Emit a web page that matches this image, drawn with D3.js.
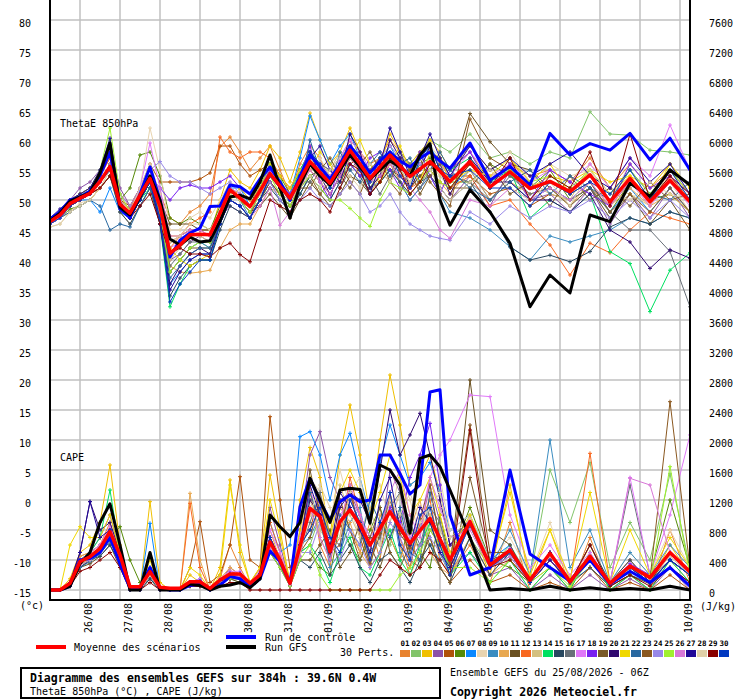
<!DOCTYPE html>
<html lang="fr">
<head>
<meta charset="utf-8">
<title>Diagramme des ensembles GEFS</title>
<script src="https://cdn.jsdelivr.net/npm/d3@7"></script>
<style>
  body { margin: 0; background: #fff; }
  text { font-family: "DejaVu Sans Mono", monospace; }
</style>
</head>
<body>
<script>
// echeances (h) : 6h jusqu'a 240h, puis 12h
var hours = [0,6,12,18,24,30,36,42,48,54,60,66,72,78,84,90,96,102,108,114,120,126,132,138,144,150,156,162,168,174,180,186,192,198,204,210,216,222,228,234,240,252,264,276,288,300,312,324,336,348,360,372,384];
var dayHours = [18,42,66,90,114,138,162,186,210,234,258,282,306,330,354,378];
var dayLabels = ["26/08","27/08","28/08","29/08","30/08","31/08","01/09","02/09","03/09","04/09","05/09","06/09","07/09","08/09","09/09","10/09"];
var thetaTicks = [-15,-10,-5,0,5,10,15,20,25,30,35,40,45,50,55,60,65,70,75,80];
var capeTicks = [0,400,800,1200,1600,2000,2400,2800,3200,3600,4000,4400,4800,5200,5600,6000,6400,6800,7200,7600];

var memberColors = ["#e8832f","#82c46a","#f0c000","#8c52a8","#b0520a","#568a08","#0a88ff","#e8d4b0","#3a8cc0","#e8a850",
                    "#6a5020","#f86820","#d4c080","#00e060","#284860","#687078","#e078f8","#7820f0","#7a5a28","#300870",
                    "#f0d800","#2868a0","#8a5820","#9888e8","#a0f030","#d878d8","#200898","#e0d0a8","#880000","#0038c0"];

// ThetaE 850hPa (°C)
var thetaMean = [46.4,47.5,49.4,50.3,51.1,53.1,55.6,49.3,47.8,50.8,53.6,48.9,41.1, 42.5,44.2,44.3,44.2,47.8,51.7,50.3,48.9,51.5,54.4,52.3,50.3,53.3, 56.4,54.6,52.8,55.5,58.3,56.0,53.6,55.5,57.5,55.7,53.9,55.2,56.4,54.8,53.1, 56.4,52.2,54.7,51.9,53.1,51.4,54.2,49.7,53.6,49.7,53.3,49.7];
var thetaCtrl = [46.8,48,50,50.5,51.5,54,58,48.5,47,51,55.5,50,40.5, 43.3,44.5,45.3,48.9,49,52.5,52.2,51,53.5,55.5,53,50,54, 57.5,55.5,53.5,56,59,57,54.5,56.5,58,56.5,55.5,57,58,56.5,55.3, 59.5,53.3,55.6,52.5,61.1,57.5,59.4,58.3,61.1,56.7,60.3,55];
var thetaGfs = [46.5,47.8,49.8,50.5,51.2,54.5,59.5,48.8,47.5,50.5,54,50,43.5, 42.5,43.8,43,43.2,46.5,50.5,50.8,50.2,53,57.5,52,47,52.5, 56,54,52.5,55,57.5,55.5,53.5,55,56.5,55.5,54,57.5,59.4,50,45.8, 51.7,48,42.8,32.2,37.5,34.5,47.5,46.4,52.8,50.6,55,52.5];
var thetaPerts = [
  [47,48,50,51,52,54,57,50,48.5,52,55,51,47, 46,48,49,51,58.9,60.5,58,55,57,59,55,51,56, 59,57,53,56,60,58,56,57,60,58,55,57,58,57,55, 58,53,56,54,55,53,57,52,56,52,55,51],
  [46,47,50,51,51.5,54,60,50,48,51,54,50,38, 40,42,43,42,47,51,50,48,50,56,54,49,51, 54,55,55,57,59,57,52,55,57,57,56,58,60,59,58, 61,57,58,56,58,57,64.7,61,60.8,58.3,58,57.5],
  [46,47.5,49,50,51.5,53,56,50,48,52,55,50,44, 44,45,45,44,50,55,53,52,55,59,57,53,58, 64.5,60,56,58,62,58,53,56,61,58,56,58,60,58,55, 59,55,57,52,54,53,55,51,54,52,56,52],
  [47,48,50,52,53,55,58.5,52,49,50,54,50,40, 41,43,44,43,47,49,48,47,52,56,53,50,55, 58,56,55,57,60,55,51,53,57,53,50,52,54,52,50, 54,49,55,50,51,48,52,46,51,47,52,47],
  [47,48,49.5,50,51,53,56,50,49,52,56,53,53, 53,53,53.5,54.5,59,59,56,54,55,56,52,51,54, 55,53,51,54,56,57,55,55,57,55,52,54,55,56,54, 54,51,52,49,51,50,52,49,53,50,54,50],
  [46,47,48.5,49,50,52,54,50,52,57.5,58,54,47, 46,47,46,45,49,52,51,49,53,57,54,51,53, 54,55,52,55,57,56,52,54,57,55,53,56,57,55,53, 53,56,54,52,55,50,52,48,53,50,51,48],
  [46,47,49,50,50,48,52,48,47,50,53,47,36, 38,40,41,41,47,52,52,49,52,56,52,51,57, 64,60,56,59,61,57,53,56,59,56,54,56,59,56,52, 55,50,53,50,52,50,53,48,52,48,52,48],
  [45.5,46,48,49.5,50,52,55,50,48,52,62,55,45, 45,47,48,47,50,53,52,50,52,54,51,50,53, 55,57,54,53,56,58,55,54,58,56,53,55,59,57,54, 55,53,58,53,56,54,55,50,56,52,53,48],
  [46,47,49,50,51,53,55,49,47,50,53,48,38, 40,42,43,42,47,51,50,47,50,53,50,48,51, 54,52,50,53,57,55,52,53,55,53,50,52,54,51,48, 47,45,42.2,40,44,43,44,45,47,46,48,47],
  [46,47,48,49,50,52,54,48,46,49,52,46,39, 38,37.8,38,38.3,42,45,46,46,49,52,51,49,53, 57,55,53,55,58,54,51,54,56,53,51,53,55,53,51, 55,50,53,51,52,49,53,49,52,49,51,48],
  [47,48,49,50,51,53,55,49,48,51,53,50,46, 46,46,45,45,48,51,50,48,49,51,49,47,50, 53,51,49,51,54,53,51,53,55,54,52,54,56,55,53, 64.4,59.7,56,55,52,49,52,47,51,46,50,45],
  [47,48,50,51,52,54,57,51,49,52,55,50,42, 44,46,47,48,60.5,58,57,58,58,57,54,52,55, 58,55,53,55,57,55,53,55,56,54,52,53,55,53,52, 54,49,50,46,42.5,37.5,42.8,41.2,45,48,47,46],
  [46,47,49,50,51,53,55,49,48,51,54,49,40, 42,44,44,43,47,51,50,48,51,53,51,50,52, 56,53,55,58,57,55,56,54,57,58,55,53,56,54,52, 56,54,55,53,51,50,56,52,51,49,55,50],
  [46,47,49,50,51,53,56,50,48,50,52,46,32.2, 36,39,40,40,46,51,50,49,52,56,53,51,55, 58,56,54,56,59,57,55,57,59,57,55,56,58,56,55, 57,53,55,47,50,48,51,41.4,39.4,31.4,38.3,41.2],
  [46,47,49,50,51,52,54,48,46,49,52,46,34, 37,39,40,40,45,49,48,47,50,52,50,48,51, 54,52,50,53,56,54,51,53,55,53,51,53,54,52,50, 53,48,42.2,40,40.8,39.7,41.4,45.5,47,46,48,47],
  [46,47,49,50,51,53,55,49,47,50,53,48,39, 41,43,43,43,47,51,50,48,51,54,52,50,53, 53,56,55,52,55,57,54,51,54,58,56,52,55,57,54, 53,50,54,51,52,50,52,48,45,45,41.4,32.2],
  [46,47,49,50,51,53,56,50,48,52,59.5,52,42, 43,45,45,44,48,52,51,49,52,55,53,51,54, 57,56,54,57,60,58,55,57,59,57,55,56,58,56,54, 58,54,56,53,55,53,56,52,57,54,62.5,55],
  [47,48,49,50,51,53,56,50,48,51,54,52,50, 52,52.5,52,52,53,54,52,50,52,55,53,51,54, 59,53,50,57,56,54,57,58,55,52,55,58,54,51,55, 58,52,56,50,55,53,51,49,56,52,54,51],
  [47,48,49,50,51,53,55,49,47,50,53,48,38, 40,42,42,42,46,50,49,47,50,53,51,49,52, 52,55,57,54,52,56,58,55,53,57,55,51,54,56,52, 52,56,51,53,49,54,50,52,49,53,50,51],
  [46,47,49,50,51,53,56,49,47,50,53,47,36, 39,41,42,41,46,50,49,47,50,54,52,50,54, 58,54,51,54,61,58,52,54,60,57,52,55,59,55,51, 57,53,53,50,50,48,51,45,43,38.6,41.7,40.3],
  [46,47,49.5,50,51,53,56,50,48,51,54,49,42, 40,39,40,41,46,50,52,50,52,56,54,52,55, 55,58,56,53,57,60,56,53,56,59,55,53,58,57,53, 55,54,57,53,56,51,55,53,54,50,56,52],
  [46,47,48,49,50,49,45,46,45.5,49,52,47,37, 39,41,42,42,46,50,49,47,50,53,51,49,52, 60,55,52,58,55,53,56,58,54,56,57,53,55,58,55, 52,50,53,55,51,54,52,50,55,51,50,53],
  [47,48,49,50,51,52,54,49,47,50,53,49,43, 44,45,45,45,48,51,50,48,50,53,51,49,52, 54,51,53,56,53,51,55,57,53,51,55,57,53,51,49, 63.5,57,55,52,53,51,53,48,51,48,52,48],
  [46,47,49,50,51,53,56,51,49,52,55,56.4,54, 53,53,52,51,52,53,51,49,51,53,50,48,50, 52,50,49,51,53,51,48,49,51,48,46,45,44,43.6,43.3, 48,46,49,47,49,48,50,47,50,47,50,47],
  [47,48,50,51,52,55,62,51,48,51,54,48,38, 40,42,43,43,47,51,50,48,51,54,51,49,52, 54,52,50,50,48.6,47,45.6,50,53,52,51,53,55,53,52, 56,52,55,53,54,52,55,51,55,51,55,51],
  [46,47,49,50,51,53,55,50,48,51,54,52,44, 44,45,45,44,47,50,49,47,49,52,45.8,48,52, 55,53,51,54,57,55,53,54,56,54,52,50,48,45,43.6, 50,49,52,50,52,50,53,49,53,49,53,49],
  [47,48.5,50,51,52,55,60.3,50,47,50,53,46,35, 38,40,41,41,46,50,49,47,50,54,52,50,53, 57,59,55,53,58,55,51,56,62,58,54,57,61,57,54, 59,55,57,54,56,58,54,52,57,53,56,51],
  [45.5,46,48,49,50,52,55,50,48,52,56,51,43, 44,46,46,45,48,51,50,49,51,54,52,50,53, 54,52,55,57,54,52,56,55,53,55,53,57,55,52,50, 53,55,52,50,53,49,55,51,50,53,51,50],
  [47,48,49,50,51,52,54,49,47,49,51,46,41, 42,41,41,40.5,42,42.8,40.9,39.7,45,50,49,48,50, 51,50,48,52,56,55,51,53,57,55,51,53,56,55,52, 56,52,57,50,54,52,58,49,61,50,54,51],
  [46,47,49,50,51,53,55,49,47,50,53,47,33, 36,38,40,40,46,50,49,47,50,54,52,50,53, 58,56,52,56,59,55,53,57,58,54,52,57,59,55,54, 55,52,52,49,53,51,53,51,55,50,55,50]
];

// CAPE (J/kg)
var capeMean = [0,0,89,378,444,556,778,467,44,44,244,36,22, 22,111,111,22,133,213,213,89,200,640,400,90,580, 1089,978,511,911,1067,870,600,820,1044,830,622,790,956,680,400, 911,333,533,133,489,111,450,89,320,165,500,245];
var capeCtrl = [0,0,50,400,420,500,700,350,20,20,300,20,0, 0,60,80,0,60,180,150,40,150,520,380,90,1111, 1489,1178,933,1178,1267,1178,1200,1800,1800,1550,1280,1400,2640,2670,1000, 200,300,1600,480,300,120,400,80,250,100,300,50];
var capeGfs = [0,0,50,350,500,900,1150,600,0,0,500,0,0, 0,80,60,0,50,67,100,30,150,1000,844,711,900, 1489,1200,900,1333,1356,1340,889,1667,1600,1400,756,1756,1800,1644,1333, 700,0,20,0,50,0,30,0,20,0,50,0];
var capePerts = [
  [0,0,100,450,500,600,900,400,0,0,200,0,0, 0,100,80,0,150,600,300,50,250,700,450,100,600, 1400,600,300,1200,800,500,900,400,1300,600,200,500,1000,400,200, 600,100,900,0,300,0,700,0,200,0,800,100],
  [0,0,60,300,400,500,800,400,20,0,300,0,0, 0,60,100,0,100,150,100,40,180,600,350,60,500, 600,1000,700,400,1200,900,300,900,600,1100,700,300,900,700,200, 700,300,600,150,1600,900,1700,300,900,400,1550,300],
  [0,0,150,500,600,900,1667,600,0,0,1178,100,0, 0,200,100,0,300,1467,500,100,300,1533,800,100,1200, 1900,1500,700,1800,2467,1800,1000,2000,2867,2200,1400,1500,1800,1300,700, 900,200,1400,100,800,50,600,50,300,100,600,200],
  [0,0,100,400,500,700,1000,500,0,0,300,0,0, 0,100,150,0,100,300,200,80,300,1100,600,100,800, 1800,2111,1500,1200,1300,1000,700,600,1600,1300,500,800,1400,900,300, 500,200,300,0,200,0,200,0,150,0,300,0],
  [0,0,80,350,400,500,700,500,0,0,200,0,0, 0,300,911,100,200,600,1511,400,300,2311,1200,300,600, 800,1300,500,600,1400,700,300,500,1100,900,400,600,700,300,100, 400,100,200,0,100,0,300,0,100,0,200,0],
  [0,0,60,300,400,500,700,844,400,100,200,0,0, 0,100,100,0,100,200,150,50,200,600,400,100,500, 500,300,200,900,600,400,800,1100,700,400,900,500,300,1000,400, 1100,400,300,100,500,100,400,100,300,200,1200,300],
  [0,0,100,400,450,550,800,400,0,0,889,0,0, 0,100,100,0,100,250,200,50,200,900,500,600,2044, 2111,1800,1200,1800,2089,1500,1000,1700,2200,1800,1400,1500,1700,1300,800, 1000,400,600,100,400,100,300,50,200,100,300,100],
  [0,0,80,350,400,500,700,400,0,0,200,0,0, 0,80,100,0,100,200,200,60,200,700,400,100,700, 1500,1300,900,1600,1100,700,1200,1400,900,1600,1200,700,1300,1500,800, 1000,400,700,200,900,100,600,100,500,200,800,300],
  [0,0,100,400,500,600,800,500,0,0,300,0,0, 0,100,150,0,150,200,200,100,200,700,400,100,600, 700,1000,300,500,900,1100,400,700,1300,500,300,900,600,400,700, 900,300,800,200,2000,300,800,100,500,200,600,300],
  [0,0,80,450,500,600,800,400,0,0,200,0,0, 0,1289,400,0,150,300,200,80,300,800,400,100,700, 1300,700,400,1100,900,500,300,1000,700,400,800,1200,500,300,200, 700,200,400,100,300,0,500,0,200,0,400,100],
  [0,0,50,300,350,450,600,300,0,0,150,0,0, 0,60,60,0,80,150,100,30,150,500,300,60,400, 400,600,800,300,500,900,600,300,700,1000,400,300,800,600,300, 2800,800,600,100,400,80,300,50,200,80,300,100],
  [0,0,90,380,450,550,850,450,0,0,250,0,0, 0,1156,300,0,150,250,200,80,250,900,500,100,700, 1000,1200,500,700,1500,1000,400,800,1300,700,300,900,1200,500,200, 900,300,500,100,500,100,1822,100,400,100,500,200],
  [0,0,70,350,420,520,700,450,0,0,200,0,0, 0,100,100,0,120,200,200,80,200,600,400,80,500, 1200,800,600,1400,1000,700,1100,600,900,1300,800,500,1000,800,500, 850,300,500,100,450,100,400,80,300,150,450,200],
  [0,0,100,400,500,700,1333,500,0,0,300,0,0, 0,100,100,0,100,200,200,80,200,600,400,80,500, 600,400,100,500,700,300,200,500,800,400,200,600,900,500,200, 500,100,400,0,300,0,500,0,200,0,400,100],
  [0,0,50,300,400,450,600,350,0,0,150,0,0, 0,50,50,0,80,150,150,50,150,500,300,50,400, 300,500,200,400,600,300,100,400,500,300,100,400,600,300,100, 700,200,500,100,400,100,600,100,400,100,500,200],
  [0,0,80,350,420,520,720,430,0,0,220,0,0, 0,100,100,0,120,200,200,80,200,600,400,80,500, 900,1300,700,600,1200,1000,500,700,1100,1300,900,600,1100,900,400, 900,300,500,100,450,100,450,100,1400,200,500,250],
  [0,0,100,400,500,600,850,500,0,0,300,0,0, 0,100,150,0,150,250,250,100,250,800,500,100,700, 1300,1100,600,1000,1200,1000,700,900,1100,900,700,900,1500,1800,2000, 2600,2578,1000,300,600,200,500,100,1500,200,1000,2067],
  [0,0,90,380,450,560,780,470,0,0,250,0,0, 0,100,120,0,130,220,220,90,220,700,400,100,600, 1100,1000,500,900,1100,900,600,800,1100,900,1500,1800,2222,1400,600, 950,350,550,150,500,150,450,100,350,200,500,250],
  [0,0,70,350,400,500,700,400,0,0,200,0,0, 0,80,80,0,100,180,180,60,180,600,350,70,500, 1600,1000,400,1200,800,400,700,1100,500,300,600,400,700,300,100, 1500,400,500,100,400,100,400,80,300,150,400,200],
  [0,0,100,500,1178,800,900,500,0,0,250,0,0, 0,100,100,0,100,200,200,80,200,700,400,100,600, 1200,1000,600,1100,1300,1200,900,1600,2400,1800,2067,2356,1800,1200,600, 900,300,500,100,400,100,400,80,300,100,400,200],
  [0,0,600,844,700,700,1000,500,0,0,400,0,0, 0,300,200,0,200,1400,600,100,300,1200,700,100,800, 1500,1200,700,1300,1600,1300,900,1300,1800,1500,1000,1200,1500,1000,500, 1000,300,1300,200,800,150,1300,100,800,200,700,300],
  [0,0,60,300,380,480,650,380,0,0,180,0,0, 0,80,80,0,100,180,180,60,180,550,350,70,450, 1300,900,400,1000,800,600,1200,900,700,1100,500,400,1300,700,300, 850,300,450,100,450,100,400,80,300,100,400,200],
  [0,0,80,350,420,520,720,430,0,0,220,0,0, 0,100,100,0,120,200,200,80,200,600,400,80,500, 700,1200,500,850,1300,800,350,750,1200,750,550,950,1400,650,350, 2200,500,500,100,400,100,400,80,300,150,2511,300],
  [0,0,80,350,420,520,720,430,0,0,220,0,0, 0,100,100,0,120,200,200,80,200,600,400,80,500, 500,900,700,400,800,600,300,500,900,700,400,600,700,500,200, 900,300,500,100,450,100,450,80,300,150,450,200],
  [0,0,80,350,400,500,700,400,0,0,200,0,0, 0,80,80,0,100,150,150,50,150,500,300,50,400, 600,200,0,0,0,0,0,0,0,200,300,500,800,600,300, 300,100,400,100,300,50,400,50,300,100,1644,200],
  [0,0,70,330,400,500,700,400,0,0,200,0,0, 0,80,80,0,100,180,180,70,180,550,350,70,450, 1100,700,400,900,1400,1000,600,800,1300,1600,1000,700,1500,1100,700, 800,300,450,100,400,100,400,80,1489,1400,500,200],
  [0,0,100,500,1178,700,800,400,0,0,250,0,0, 0,100,100,0,100,200,200,80,200,700,400,100,600, 1400,1000,500,1300,1100,800,500,1200,1500,800,600,1100,900,500,300, 900,300,500,100,400,100,400,80,300,100,400,200],
  [0,0,70,350,420,520,700,430,0,0,200,0,0, 0,90,90,0,120,200,200,80,200,600,400,80,500, 1000,1400,1100,700,1300,1500,900,600,1200,1000,1300,900,1100,1300,700, 950,300,500,100,450,100,450,80,300,150,450,200],
  [0,0,50,250,300,400,500,300,0,0,100,0,0, 0,50,50,0,50,100,100,0,0,0,0,0,0, 0,0,0,0,0,0,0,200,400,300,200,300,500,400,200, 2133,300,400,100,500,100,600,50,200,50,300,100],
  [0,0,90,400,450,560,800,470,0,0,250,0,0, 0,100,120,0,130,220,220,90,220,700,400,100,600, 800,1100,700,500,1200,900,400,900,1300,600,400,1000,1100,600,200, 900,300,500,100,500,100,400,80,300,100,400,200]
];

var W = 740, H = 700;
var svg = d3.select("body").append("svg")
            .attr("width", W)
            .attr("height", H)
            .style("background", "#fff");

var x = d3.scaleLinear().domain([0, 384]).range([50, 690]);
var yT = d3.scaleLinear().domain([-15, 80]).range([590, 20]);
var yC = d3.scaleLinear().domain([0, 7600]).range([590, 20]);

// grille
svg.append("g").selectAll("line")
   .data(thetaTicks).enter().append("line")
   .attr("x1", 50).attr("x2", 690)
   .attr("y1", function(d){return yT(d);}).attr("y2", function(d){return yT(d);})
   .attr("stroke", "#c0c0c0").attr("stroke-width", 1.5);
svg.append("g").selectAll("line")
   .data(dayHours).enter().append("line")
   .attr("x1", function(d){return x(d);}).attr("x2", function(d){return x(d);})
   .attr("y1", 0).attr("y2", 600)
   .attr("stroke", "#c0c0c0").attr("stroke-width", 1.5);

// axes
var axL = svg.append("g").attr("transform", "translate(50,3)")
   .call(d3.axisLeft(yT).tickValues(thetaTicks).tickSize(0).tickPadding(19).tickFormat(function(d){return String(d);}));
var axR = svg.append("g").attr("transform", "translate(690,3)")
   .call(d3.axisRight(yC).tickValues(capeTicks).tickSize(0).tickPadding(19).tickFormat(function(d){return String(d);}));
var axB = svg.append("g").attr("transform", "translate(0,600)")
   .call(d3.axisBottom(x).tickValues(dayHours).tickSize(0).tickFormat(function(d, i){return dayLabels[i];}));
[axL, axR, axB].forEach(function(g){
  g.select(".domain").remove();
  g.selectAll("text").attr("fill", "#000").style("font-family", "DejaVu Sans Mono").style("font-size", "10px");
});
axB.selectAll("text")
   .attr("x", null).attr("y", null).attr("dy", null)
   .attr("transform", "translate(11,3) rotate(-90)")
   .style("text-anchor", "end");

// courbes
var clip = svg.append("clipPath").attr("id", "plot");
clip.append("rect").attr("x", 50).attr("y", 0).attr("width", 640).attr("height", 600);
var plot = svg.append("g").attr("clip-path", "url(#plot)");

function drawSeries(values, yScale, color, width, marks) {
  var line = d3.line()
               .x(function(d, i){return x(hours[i]);})
               .y(function(d){return yScale(d);});
  plot.append("path")
      .datum(values)
      .attr("d", line)
      .attr("fill", "none")
      .attr("stroke", color)
      .attr("stroke-width", width)
      .attr("stroke-linejoin", "round");
  if (marks) {
    plot.append("g").selectAll("path")
        .data(values).enter().append("path")
        .attr("d", function(d, i){
          var px = x(hours[i]), py = yScale(d);
          return "M" + (px - 2) + "," + py + "h4M" + px + "," + (py - 2) + "v4";
        })
        .attr("stroke", color)
        .attr("stroke-width", 1);
  }
}

capePerts.forEach(function(v, k){ drawSeries(v, yC, memberColors[k], 1, true); });
thetaPerts.forEach(function(v, k){ drawSeries(v, yT, memberColors[k], 1, true); });
drawSeries(capeCtrl, yC, "#0000ff", 3, false);
drawSeries(thetaCtrl, yT, "#0000ff", 3, false);
drawSeries(capeGfs, yC, "#000000", 3, false);
drawSeries(thetaGfs, yT, "#000000", 3, false);
drawSeries(capeMean, yC, "#ff0000", 3.5, false);
drawSeries(thetaMean, yT, "#ff0000", 3.5, false);

// cadre
svg.append("path")
   .attr("d", "M50,0V600H690V0")
   .attr("fill", "none").attr("stroke", "#000").attr("stroke-width", 2);

// textes
function txt(s, px, py, size, bold, anchor) {
  return svg.append("text").attr("x", px).attr("y", py)
            .style("font-size", size + "px")
            .style("font-weight", bold ? "bold" : "normal")
            .style("text-anchor", anchor || "start")
            .attr("fill", "#000").text(s);
}
txt("ThetaE 850hPa", 60, 127, 10);
txt("CAPE", 60, 461, 10);
txt("(°c)", 20, 609, 10);
txt("(J/kg)", 700, 610, 10);

// legende
svg.append("rect").attr("x", 36).attr("y", 645).attr("width", 30).attr("height", 4).attr("fill", "#ff0000");
svg.append("rect").attr("x", 226).attr("y", 635).attr("width", 30).attr("height", 4).attr("fill", "#0000ff");
svg.append("rect").attr("x", 226).attr("y", 645).attr("width", 30).attr("height", 4).attr("fill", "#000000");
txt("Moyenne des scénarios", 74, 651, 10);
txt("Run de contrôle", 265, 641, 10);
txt("Run GFS", 265, 651, 10);
txt("30 Perts.", 340, 656, 10);

var leg = svg.append("g").selectAll("g").data(memberColors).enter().append("g");
leg.append("rect")
   .attr("x", function(d, i){return 400 + i * 11;}).attr("y", 650)
   .attr("width", 10).attr("height", 7)
   .attr("fill", function(d){return d;});
leg.append("text")
   .attr("x", function(d, i){return 405 + i * 11;}).attr("y", 646)
   .style("font-size", "7.5px").style("font-weight", "bold").style("text-anchor", "middle")
   .text(function(d, i){return (i < 9 ? "0" : "") + (i + 1);});

// cartouche
svg.append("rect").attr("x", 21).attr("y", 668).attr("width", 419).attr("height", 30)
   .attr("fill", "none").attr("stroke", "#000").attr("stroke-width", 2);
txt("Diagramme des ensembles GEFS sur 384h : 39.6N 0.4W", 30, 682, 11.5, true);
txt("ThetaE 850hPa (°C) , CAPE (J/kg)", 30, 695, 10);
txt("Ensemble GEFS du 25/08/2026 - 06Z", 450, 676, 10);
txt("Copyright 2026 Meteociel.fr", 450, 696, 11.5, true);
</script>
</body>
</html>
